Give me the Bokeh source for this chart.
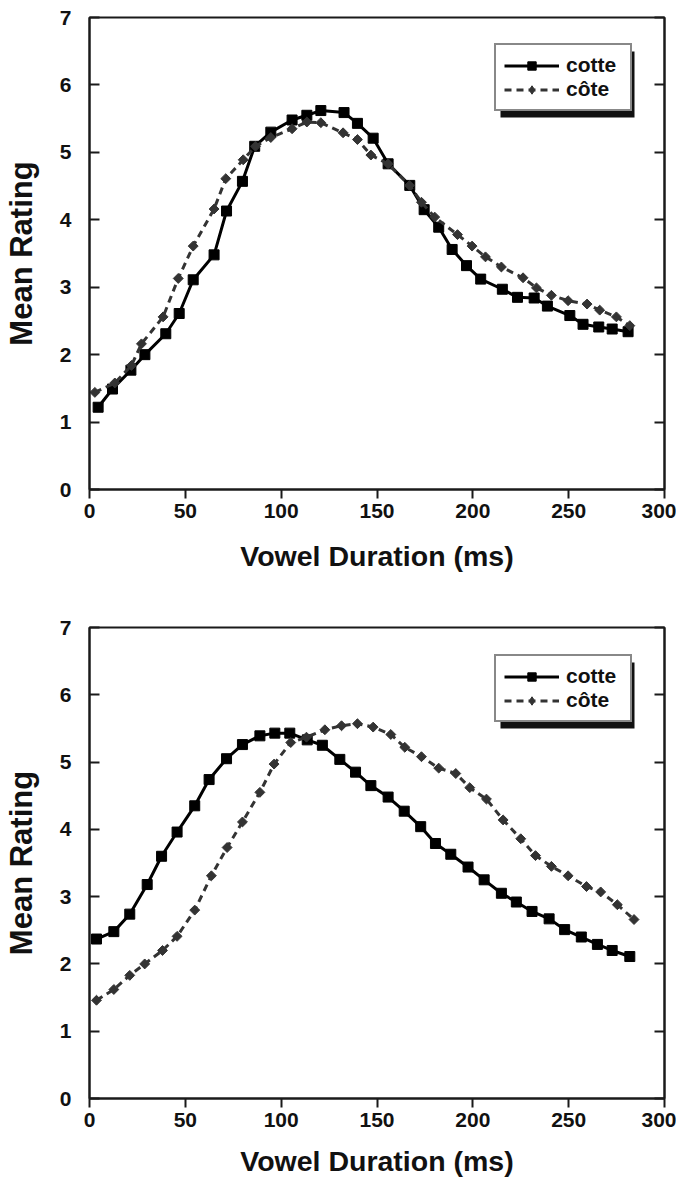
from bokeh.plotting import figure
from bokeh.models import (Range1d, LinearAxis, SingleIntervalTicker, Legend,
                          LegendItem, BoxAnnotation)
from bokeh.layouts import column
from bokeh.embed import file_html
from bokeh.resources import INLINE
import math

# ---------------- data ----------------
series_names = ["cotte", "côte"]
x_title = "Vowel Duration (ms)"
y_title = "Mean Rating"

top_cotte_ms = [4.5, 12, 21.6, 28.9, 39.8, 46.8, 54.1, 65, 71.5, 79.8, 86.2, 94.6, 105.7, 113.4,
                120.7, 132.8, 139.8, 148, 155.8, 167.1, 174.6, 182.2, 189.2, 196.7, 204.1, 215.4,
                223.3, 232, 238.9, 250.6, 257.5, 265.7, 272.7, 281]
top_cotte_rating = [1.22, 1.49, 1.77, 2.00, 2.31, 2.61, 3.11, 3.48, 4.13, 4.57, 5.09, 5.30, 5.48,
                    5.55, 5.62, 5.59, 5.43, 5.21, 4.83, 4.51, 4.15, 3.89, 3.56, 3.32, 3.12, 2.97,
                    2.85, 2.84, 2.72, 2.58, 2.45, 2.41, 2.38, 2.34]
top_cote_ms = [2.8, 13.2, 21.9, 27.1, 38.4, 46.3, 54.1, 65, 71.1, 80.2, 86.6, 94.6, 105.7, 113.4,
               120.7, 132.3, 139.8, 146.8, 155.8, 167, 173.2, 180.1, 192, 199.6, 206.6, 214.9,
               226.2, 233.2, 241, 249.7, 259.6, 266.2, 274.9, 281.9]
top_cote_rating = [1.44, 1.58, 1.84, 2.16, 2.56, 3.13, 3.61, 4.16, 4.61, 4.89, 5.09, 5.22, 5.35,
                   5.45, 5.44, 5.29, 5.19, 4.96, 4.83, 4.51, 4.26, 4.04, 3.78, 3.61, 3.45, 3.30,
                   3.14, 2.99, 2.88, 2.80, 2.75, 2.66, 2.56, 2.43]

bottom_cotte_ms = [3.65, 12.7, 21, 30.1, 37.6, 45.7, 54.9, 62.4, 71.5, 79.8, 88.9, 96.7, 104.5,
                   113.6, 121.5, 130.6, 138.8, 146.8, 155.8, 164.2, 172.8, 180.5, 188.5, 197.5,
                   205.9, 214.9, 222.7, 230.9, 239.8, 247.9, 256.6, 265, 272.7, 281.9]
bottom_cotte_rating = [2.37, 2.48, 2.74, 3.18, 3.60, 3.96, 4.35, 4.74, 5.05, 5.26, 5.39, 5.43,
                       5.43, 5.33, 5.25, 5.04, 4.85, 4.65, 4.48, 4.27, 4.04, 3.79, 3.63, 3.44,
                       3.25, 3.05, 2.92, 2.78, 2.67, 2.51, 2.40, 2.29, 2.20, 2.11]
bottom_cote_ms = [3.65, 12.7, 21, 28.8, 38.1, 45.7, 54.9, 63.6, 71.8, 79.8, 88.9, 96.3, 105,
                  113.2, 122.8, 131.5, 139.8, 148, 157.2, 164.5, 173.2, 182.2, 191.1, 198.4,
                  207.1, 215.8, 225, 232.7, 241, 249.7, 259.3, 266.7, 275.4, 284.1]
bottom_cote_rating = [1.46, 1.62, 1.83, 2.00, 2.20, 2.41, 2.80, 3.31, 3.73, 4.11, 4.55, 4.97,
                      5.29, 5.37, 5.48, 5.54, 5.57, 5.52, 5.41, 5.22, 5.08, 4.91, 4.83, 4.62,
                      4.45, 4.14, 3.86, 3.61, 3.45, 3.31, 3.15, 3.07, 2.88, 2.66]

x_min, x_max, x_step = 0, 300, 50
y_min, y_max, y_step = 0, 7, 1

# ---------------- style ----------------
FONT = "Liberation Sans"
AXIS_COLOR = "#1a1a1a"
COTTE_COLOR = "#000000"
COTE_COLOR = "#333333"
FRAME_W = 575
BORDER_L = 80
BORDER_R = 12


def make_panel(cotte_x, cotte_y, cote_x, cote_y, frame_h, border_top, border_bottom,
               legend_top_offset, title_standoff):
    p = figure(frame_width=FRAME_W, frame_height=frame_h,
               min_border_left=BORDER_L, min_border_right=BORDER_R,
               min_border_top=border_top, min_border_bottom=border_bottom,
               x_range=Range1d(x_min, x_max), y_range=Range1d(y_min, y_max),
               output_backend="svg", toolbar_location=None,
               background_fill_color="white", border_fill_color="white")
    p.grid.visible = False
    p.outline_line_color = AXIS_COLOR
    p.outline_line_width = 2

    for ax in (p.xaxis[0], p.yaxis[0]):
        ax.axis_line_color = AXIS_COLOR
        ax.axis_line_width = 2
        ax.major_tick_line_color = AXIS_COLOR
        ax.major_tick_line_width = 2
        ax.minor_tick_line_color = None
        ax.major_label_text_font = FONT
        ax.major_label_text_font_style = "bold"
        ax.major_label_text_font_size = "21px"
        ax.major_label_text_color = "#111111"
        ax.axis_label_text_font = FONT
        ax.axis_label_text_font_style = "bold"
        ax.axis_label_text_color = "#111111"

    xa = p.xaxis[0]
    xa.ticker = SingleIntervalTicker(interval=x_step)
    xa.major_tick_out = 9
    xa.major_tick_in = 0
    xa.major_label_standoff = 5
    xa.axis_label = x_title
    xa.axis_label_text_font_size = "28.5px"
    xa.axis_label_standoff = title_standoff

    ya = p.yaxis[0]
    ya.ticker = SingleIntervalTicker(interval=y_step)
    ya.major_tick_out = 0
    ya.major_tick_in = 10
    ya.major_label_standoff = 14
    ya.axis_label = y_title
    ya.axis_label_text_font_size = "31px"
    ya.axis_label_standoff = 18

    ra = LinearAxis(ticker=SingleIntervalTicker(interval=y_step),
                    major_label_text_font_size="0px", major_label_text_color=None,
                    axis_line_color=AXIS_COLOR, axis_line_width=2,
                    major_tick_line_color=AXIS_COLOR, major_tick_line_width=2,
                    major_tick_in=10, major_tick_out=0, minor_tick_line_color=None)
    p.add_layout(ra, "right")

    # data
    l1 = p.line(cotte_x, cotte_y, line_color=COTTE_COLOR, line_width=3)
    p.scatter(cotte_x, cotte_y, marker="square", size=10,
              fill_color=COTTE_COLOR, line_color=COTTE_COLOR)
    l2 = p.line(cote_x, cote_y, line_color=COTE_COLOR, line_width=3, line_dash="7 5")
    p.scatter(cote_x, cote_y, marker="square", size=7, angle=math.pi / 4,
              fill_color=COTE_COLOR, line_color=COTE_COLOR)
    # legend-only marker proxies (NaN position, never drawn in the plot)
    k1 = p.scatter([math.nan], [math.nan], marker="square", size=8,
                   fill_color=COTTE_COLOR, line_color=COTTE_COLOR)
    k2 = p.scatter([math.nan], [math.nan], marker="diamond", size=9,
                   fill_color=COTE_COLOR, line_color=COTE_COLOR)

    # legend
    leg_w, leg_h = 134, 66
    leg_left = 405
    leg_bottom = frame_h - legend_top_offset - leg_h
    legend = Legend(items=[LegendItem(label=series_names[0], renderers=[l1, k1]),
                           LegendItem(label=series_names[1], renderers=[l2, k2])],
                    location=(leg_left, leg_bottom),
                    label_text_font=FONT, label_text_font_style="bold",
                    label_text_font_size="21px", label_text_color="#111111",
                    glyph_width=55, glyph_height=21, label_standoff=7,
                    label_width=56, padding=8, spacing=0, margin=0,
                    border_line_color="#111111", border_line_width=2,
                    background_fill_color="white", background_fill_alpha=1)
    p.add_layout(legend, "center")

    # legend drop shadow (pixel offsets converted to data units)
    sx = (x_max - x_min) / FRAME_W
    sy = (y_max - y_min) / frame_h
    off = 6
    sh_top_px = frame_h - legend_top_offset - off  # from frame bottom
    shadow = BoxAnnotation(left=x_min + (leg_left + off) * sx,
                           right=x_min + (leg_left + leg_w + off) * sx,
                           bottom=y_min + (sh_top_px - leg_h) * sy,
                           top=y_min + sh_top_px * sy,
                           fill_color="#111111", fill_alpha=1, line_alpha=0,
                           level="underlay")
    p.add_layout(shadow)
    return p


p1 = make_panel(top_cotte_ms, top_cotte_rating, top_cote_ms, top_cote_rating,
                frame_h=472, border_top=17, border_bottom=101, legend_top_offset=28,
                title_standoff=19)
p2 = make_panel(bottom_cotte_ms, bottom_cotte_rating, bottom_cote_ms, bottom_cote_rating,
                frame_h=471, border_top=37, border_bottom=78, legend_top_offset=29,
                title_standoff=15)

layout = column(p1, p2, spacing=0)
open("out.html", "w").write(file_html(layout, INLINE))
